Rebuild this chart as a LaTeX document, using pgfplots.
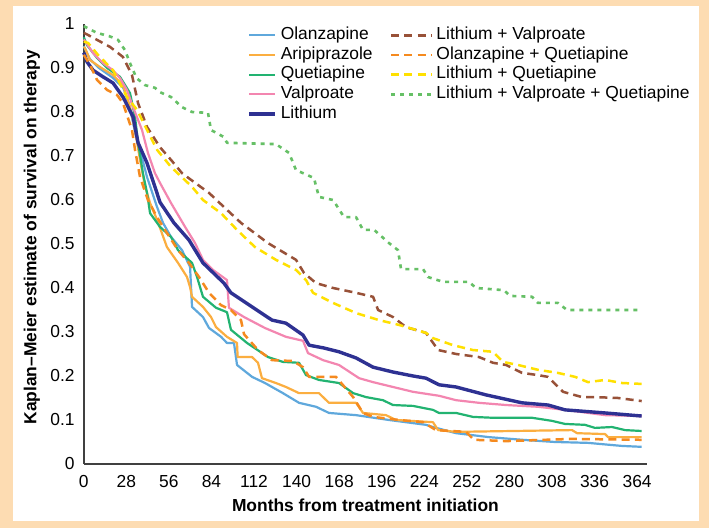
\documentclass[border=0pt]{standalone}
\usepackage{fontspec}
\setmainfont{Liberation Sans}
\usepackage{pgfplots}
\pgfplotsset{compat=1.18}

\definecolor{bgpeach}{HTML}{FDDCB2}
\definecolor{olz}{HTML}{5FA8DC}
\definecolor{ari}{HTML}{FBAE40}
\definecolor{que}{HTML}{22B371}
\definecolor{val}{HTML}{F386B0}
\definecolor{lit}{HTML}{2E3192}
\definecolor{lv}{HTML}{985138}
\definecolor{oq}{HTML}{F58A1F}
\definecolor{lq}{HTML}{FFE000}
\definecolor{lvq}{HTML}{66C066}

\pgfplotsset{
  olzs/.style={color=olz, line width=1.1pt},
  aris/.style={color=ari, line width=1.1pt},
  ques/.style={color=que, line width=1.1pt},
  vals/.style={color=val, line width=1.1pt},
  lits/.style={color=lit, line width=1.7pt},
  lvs/.style={color=lv, line width=1.25pt, dash pattern=on 4pt off 2.6pt},
  oqs/.style={color=oq, line width=1.25pt, dash pattern=on 4pt off 2.6pt},
  lqs/.style={color=lq, line width=1.25pt, dash pattern=on 4pt off 2.6pt},
  lvqs/.style={color=lvq, line width=1.3pt, dash pattern=on 2pt off 2.5pt},
  legshort/.style={legend image code/.code={\draw[##1] (0pt,0pt) -- (13pt,0pt);}},
  leglong/.style={legend image code/.code={\draw[##1] (0pt,0pt) -- (20pt,0pt);}},
}

\begin{document}
\fontsize{8.7}{10.4}\selectfont
\begin{tikzpicture}[font=\fontsize{8.7}{10.4}\selectfont]
\fill[bgpeach] (0pt,0pt) rectangle (354.5pt,264pt);
\fill[white] (6.25pt,3.25pt) rectangle (349.25pt,261pt);
\begin{axis}[
    at={(41.9pt,32pt)}, anchor=south west,
    scale only axis,
    width=281.6pt, height=220pt,
    xmin=0, xmax=370.5,
    ymin=0, ymax=1,
    xtick={0,28,...,364},
    ytick={0,0.1,0.2,0.3,0.4,0.5,0.6,0.7,0.8,0.9,1},
    axis lines*=left,
    axis line style={-, draw=black!75, line width=0.8pt},
    major tick length=0pt,
    /pgf/number format/assume math mode=true,
    xticklabel style={yshift=-2.4pt},
    yticklabel style={xshift=-1.5pt},
    xlabel={\bfseries Months from treatment initiation},
    ylabel={\bfseries Kaplan--Meier estimate of survival on therapy},
    xlabel style={at={(axis description cs:0.5,-0.109)}, anchor=base},
    ylabel style={at={(axis description cs:-0.084,0.515)}, anchor=base},
    clip=false,
    line join=round,
    legend columns=2,
    legend style={draw=none, fill=none, inner sep=0pt,
        at={(0.2898,0.9977)}, anchor=north west,
        nodes={inner sep=0pt, text height=7pt, text depth=2.85pt},
        /tikz/every odd column/.append style={column sep=2pt},
        /tikz/every even column/.append style={column sep=8.6pt},
        row sep=0pt},
    legend cell align=left,
]
% Olanzapine
\addplot[olzs, forget plot] coordinates {
(0,0.95) (4,0.92) (10,0.90) (19,0.878) (26,0.855) (30,0.815) (34,0.75) (38,0.70)
(41.6,0.652) (48.2,0.584) (52.1,0.548) (57.4,0.516) (64.6,0.486) (69.9,0.448)
(71.2,0.357) (78.4,0.334) (82.4,0.309) (90.3,0.289) (94.2,0.275) (98.8,0.275)
(100.8,0.225) (110.7,0.198) (119.2,0.184) (131,0.161) (141.6,0.139) (152.8,0.130)
(161.3,0.116) (179.1,0.111) (200.8,0.1) (225.1,0.089) (229.7,0.084) (244.9,0.070)
(266.6,0.061) (288.3,0.055) (310,0.05) (331.7,0.048) (354.1,0.041) (367,0.039)
};
% Aripiprazole
\addplot[aris, forget plot] coordinates {
(0,0.948) (0.8,0.945) (4.1,0.918) (10.7,0.902) (19.2,0.884) (25.8,0.861) (30.4,0.811)
(33.7,0.759) (37,0.691) (40.3,0.630) (43.6,0.593) (48.2,0.555) (54.7,0.493) (62,0.457)
(67.9,0.425) (69.9,0.402) (71.2,0.380) (78.4,0.357) (83.7,0.334) (87,0.311) (94.2,0.289)
(100.8,0.275) (101.2,0.243) (110.7,0.243) (114.6,0.230) (117.2,0.195) (126.4,0.184)
(133,0.175) (141.6,0.161) (154.7,0.161) (161.3,0.139) (179.1,0.139) (183.7,0.116)
(198.8,0.111) (205.4,0.1) (229.7,0.095) (233.1,0.077) (244.9,0.073) (321.2,0.077)
(324.5,0.070) (342.9,0.068) (344.9,0.061) (367,0.061)
};
% Quetiapine
\addplot[ques, forget plot] coordinates {
(0,0.97) (2.1,0.952) (8.7,0.923) (15.3,0.9) (23.8,0.880) (30.4,0.843) (33.7,0.789)
(35.7,0.730) (38.9,0.661) (41.6,0.616) (43.6,0.570) (50.1,0.539) (57.4,0.516) (62,0.486)
(71.2,0.457) (74.5,0.425) (78.4,0.380) (87,0.355) (94.2,0.345) (96.8,0.305) (107.4,0.275)
(121.2,0.243) (131,0.232) (141.6,0.230) (146.2,0.202) (154.7,0.191) (167.9,0.184)
(177.2,0.161) (185.7,0.152) (196.8,0.145) (203.4,0.134) (216.6,0.132) (229.7,0.123)
(233.7,0.116) (244.9,0.116) (256,0.107) (269.2,0.105) (294.9,0.105) (308,0.098)
(316.6,0.091) (329.7,0.089) (336.3,0.082) (347.5,0.084) (356.1,0.077) (367,0.075)
};
% Valproate
\addplot[vals, forget plot] coordinates {
(0,0.965) (6.1,0.934) (12.6,0.911) (19.2,0.895) (23.8,0.877) (28.4,0.85) (32.4,0.811)
(38.3,0.759) (42.2,0.707) (46.8,0.661) (50.1,0.639) (57.4,0.593) (66.6,0.539) (73.2,0.502)
(78.4,0.464) (85,0.441) (94.2,0.418) (95.5,0.355) (105.4,0.334) (119.2,0.309) (133,0.289)
(144.2,0.280) (147.5,0.252) (157.4,0.236) (167.9,0.225) (181.1,0.195) (190.3,0.186)
(203.4,0.175) (216.6,0.164) (233.7,0.155) (244.9,0.145) (260,0.139) (277.8,0.134)
(298.8,0.130) (316.6,0.123) (342.9,0.111) (367,0.109)
};
% Lithium
\addplot[lits, forget plot] coordinates {
(0,0.935) (2.1,0.914) (6.1,0.895) (12.6,0.880) (19.2,0.866) (25.8,0.834) (32.4,0.789)
(35.7,0.730) (41.6,0.684) (46.8,0.630) (50.1,0.595) (59.3,0.548) (69.2,0.509) (78.4,0.457)
(92.2,0.411) (96.8,0.389) (110.7,0.357) (123.8,0.327) (133,0.320) (144.2,0.293)
(148.2,0.270) (157.4,0.264) (167.9,0.255) (179.1,0.241) (190.3,0.220) (203.4,0.209)
(216.6,0.2) (225.1,0.195) (233.7,0.180) (244.9,0.175) (264.6,0.157) (288.3,0.139)
(305.4,0.134) (316.6,0.123) (342.9,0.116) (367,0.109)
};
% Olanzapine + Quetiapine
\addplot[oqs, forget plot] coordinates {
(0,0.93) (4.1,0.907) (8.7,0.873) (15.3,0.85) (21.8,0.839) (25.8,0.820) (31.7,0.759)
(33.7,0.714) (37,0.652) (42.2,0.6) (48.2,0.561) (54.7,0.525) (62,0.486) (69.2,0.457)
(75.8,0.425) (82.4,0.389) (90.3,0.361) (96.8,0.35) (103.4,0.327) (105.4,0.295)
(114.6,0.259) (123.8,0.236) (137.6,0.234) (144.2,0.220) (148.2,0.198) (165.9,0.198)
(177.2,0.152) (183.7,0.116) (190.3,0.107) (207.4,0.1) (223.2,0.095) (231.7,0.077)
(251.4,0.073) (256.7,0.055) (277.8,0.052) (321.2,0.057) (367,0.055)
};
% Lithium + Valproate
\addplot[lvs, forget plot] coordinates {
(0,0.98) (2.8,0.975) (17.2,0.948) (25.8,0.925) (31.7,0.884) (35.7,0.820) (41.6,0.766)
(50.1,0.720) (57.4,0.691) (64.6,0.661) (73.2,0.639) (82.4,0.616) (92.2,0.584)
(103.4,0.548) (121.2,0.502) (139.6,0.464) (144.9,0.434) (152.8,0.411) (164,0.4)
(179.1,0.389) (190.3,0.380) (193.6,0.35) (203.4,0.334) (212,0.311) (225.1,0.298)
(233.1,0.259) (244.9,0.25) (260,0.243) (269.2,0.230) (277.8,0.225) (288.3,0.207)
(298.8,0.202) (305.4,0.198) (315.3,0.164) (327.8,0.152) (336.3,0.152) (351.4,0.15)
(367,0.143)
};
% Lithium + Quetiapine
\addplot[lqs, forget plot] coordinates {
(0,0.96) (2.8,0.957) (9.3,0.930) (19.2,0.895) (28.4,0.834) (35,0.805) (41.6,0.759)
(48.2,0.714) (57.4,0.675) (71.2,0.630) (78.4,0.6) (90.3,0.570) (100.8,0.532)
(112.6,0.493) (126.4,0.464) (139.6,0.441) (146.2,0.418) (150.8,0.389) (164,0.366)
(179.1,0.343) (194.2,0.327) (207.4,0.316) (225.1,0.298) (229.7,0.286) (242.9,0.270)
(256,0.259) (269.2,0.255) (275.8,0.232) (285.7,0.225) (298.8,0.214) (311.9,0.207)
(323.2,0.198) (331.7,0.186) (342.9,0.191) (354.1,0.184) (367,0.182)
};
% Lithium + Valproate + Quetiapine
\addplot[lvqs, forget plot] coordinates {
(0,0.995) (8.5,0.98) (17,0.972) (22.5,0.964) (27,0.941) (30.4,0.911) (34.7,0.877)
(40.3,0.861) (46.8,0.855) (50.1,0.845) (57.4,0.834) (64.6,0.811) (71.2,0.8) (81.7,0.798)
(83.7,0.759) (92.2,0.743) (94.2,0.730) (126.4,0.727) (135,0.707) (139.6,0.668)
(151.4,0.65) (154.7,0.607) (164,0.6) (171.2,0.561) (179.1,0.561) (183.7,0.532)
(191,0.532) (200.8,0.502) (206.7,0.486) (208.7,0.443) (223.2,0.443) (226.4,0.425)
(236.3,0.414) (253.4,0.414) (258,0.4) (276.4,0.395) (280.4,0.382) (294.9,0.380)
(298.8,0.366) (311.9,0.366) (317.9,0.35) (367,0.35)
};
% legend, filled row by row so that it reads down two columns
\addlegendimage{olzs, legshort}\addlegendentry{Olanzapine}
\addlegendimage{lvs, leglong}\addlegendentry{Lithium + Valproate}
\addlegendimage{aris, legshort}\addlegendentry{Aripiprazole}
\addlegendimage{oqs, leglong}\addlegendentry{Olanzapine + Quetiapine}
\addlegendimage{ques, legshort}\addlegendentry{Quetiapine}
\addlegendimage{lqs, leglong}\addlegendentry{Lithium + Quetiapine}
\addlegendimage{vals, legshort}\addlegendentry{Valproate}
\addlegendimage{lvqs, leglong}\addlegendentry{Lithium + Valproate + Quetiapine}
\addlegendimage{lits, legshort}\addlegendentry{Lithium}
\end{axis}
\end{tikzpicture}
\end{document}
